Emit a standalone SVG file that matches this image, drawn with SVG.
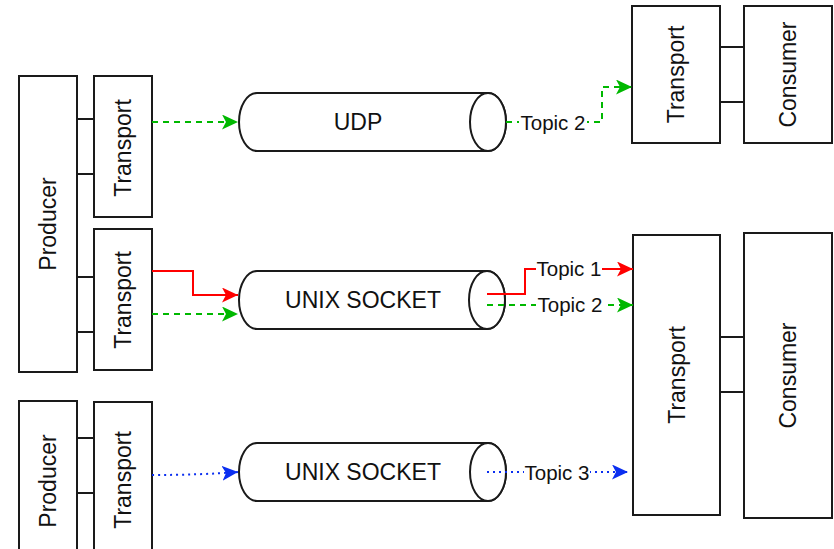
<svg xmlns="http://www.w3.org/2000/svg" width="834" height="549" viewBox="0 0 834 549">
  <style>
    .box { fill: #ffffff; stroke: #1a1a1a; stroke-width: 2; }
    .link { fill: none; stroke: #1a1a1a; stroke-width: 2; }
    .cyl { fill: #ffffff; stroke: #1a1a1a; stroke-width: 2; }
    .lbl { font-family: "Liberation Sans", Arial, sans-serif; font-size: 23px; fill: #111111; text-anchor: middle; dominant-baseline: central; }
    .topic { font-family: "Liberation Sans", Arial, sans-serif; font-size: 20.5px; fill: #111111; text-anchor: middle; dominant-baseline: central; }
    .bg { fill: #ffffff; }
    .red { fill: none; stroke: #ff0000; stroke-width: 2; }
    .green { fill: none; stroke: #00b800; stroke-width: 2; stroke-dasharray: 6 5; }
    .blue { fill: none; stroke: #0a2ef0; stroke-width: 2; stroke-dasharray: 2 4; }
  </style>
  <defs>
    <marker id="arrowRed" markerUnits="userSpaceOnUse" markerWidth="17" markerHeight="15" refX="16" refY="7.5" orient="auto">
      <path d="M0,0 L16,7.5 L0,15 L4,7.5 Z" fill="#ff0000"/>
    </marker>
    <marker id="arrowGreen" markerUnits="userSpaceOnUse" markerWidth="17" markerHeight="15" refX="16" refY="7.5" orient="auto">
      <path d="M0,0 L16,7.5 L0,15 L4,7.5 Z" fill="#00b800"/>
    </marker>
    <marker id="arrowBlue" markerUnits="userSpaceOnUse" markerWidth="17" markerHeight="15" refX="16" refY="7.5" orient="auto">
      <path d="M0,0 L16,7.5 L0,15 L4,7.5 Z" fill="#0a2ef0"/>
    </marker>
  </defs>

  <!-- producer 1 with its two transports -->
  <g id="producer1">
    <rect class="box" x="19" y="76" width="58" height="296"/>
    <text class="lbl" transform="rotate(-90 48 224)" x="48" y="224">Producer</text>
  </g>
  <g id="producer1-transport-a">
    <rect class="box" x="94" y="76" width="58" height="141"/>
    <text class="lbl" transform="rotate(-90 123 148)" x="123" y="148">Transport</text>
  </g>
  <g id="producer1-transport-b">
    <rect class="box" x="94" y="229" width="58" height="141"/>
    <text class="lbl" transform="rotate(-90 123 300)" x="123" y="300">Transport</text>
  </g>

  <!-- producer 2 -->
  <g id="producer2">
    <rect class="box" x="19" y="401" width="58" height="160"/>
    <text class="lbl" transform="rotate(-90 48 481)" x="48" y="481">Producer</text>
  </g>
  <g id="producer2-transport">
    <rect class="box" x="94" y="402" width="58" height="159"/>
    <text class="lbl" transform="rotate(-90 123 480)" x="123" y="480">Transport</text>
  </g>

  <!-- consumer 1 -->
  <g id="consumer1-transport">
    <rect class="box" x="632" y="6" width="88" height="137"/>
    <text class="lbl" transform="rotate(-90 676 74.5)" x="676" y="74.5">Transport</text>
  </g>
  <g id="consumer1">
    <rect class="box" x="744" y="6" width="88" height="137"/>
    <text class="lbl" transform="rotate(-90 788 74.5)" x="788" y="74.5">Consumer</text>
  </g>

  <!-- consumer 2 -->
  <g id="consumer2-transport">
    <rect class="box" x="633" y="235" width="87" height="280"/>
    <text class="lbl" transform="rotate(-90 676.5 375)" x="676.5" y="375">Transport</text>
  </g>
  <g id="consumer2">
    <rect class="box" x="744" y="233" width="88" height="285"/>
    <text class="lbl" transform="rotate(-90 788 375.5)" x="788" y="375.5">Consumer</text>
  </g>

  <!-- channels -->
  <g id="udp">
    <path class="cyl" d="M257,93 L488,93 A18,29 0 0 1 488,151 L257,151 A18,29 0 0 1 257,93 Z"/>
    <ellipse class="cyl" cx="488" cy="122" rx="18" ry="29"/>
    <text class="lbl" x="358" y="122">UDP</text>
  </g>
  <g id="unix-socket-1">
    <path class="cyl" d="M257,271 L487,271 A18,29 0 0 1 487,329 L257,329 A18,29 0 0 1 257,271 Z"/>
    <ellipse class="cyl" cx="487" cy="300" rx="18" ry="29"/>
    <text class="lbl" x="363" y="300">UNIX SOCKET</text>
  </g>
  <g id="unix-socket-2">
    <path class="cyl" d="M257,443 L488,443 A18,29 0 0 1 488,501 L257,501 A18,29 0 0 1 257,443 Z"/>
    <ellipse class="cyl" cx="488" cy="472" rx="18" ry="29"/>
    <text class="lbl" x="363" y="472">UNIX SOCKET</text>
  </g>

  <!-- connectors -->
  <g id="connectors">
    <!-- attachment bars -->
    <line class="link" x1="77" y1="119" x2="94" y2="119"/>
    <line class="link" x1="77" y1="174" x2="94" y2="174"/>
    <line class="link" x1="77" y1="277" x2="94" y2="277"/>
    <line class="link" x1="77" y1="332" x2="94" y2="332"/>
    <line class="link" x1="77" y1="438" x2="94" y2="438"/>
    <line class="link" x1="77" y1="493" x2="94" y2="493"/>
    <line class="link" x1="720" y1="47" x2="744" y2="47"/>
    <line class="link" x1="720" y1="102" x2="744" y2="102"/>
    <line class="link" x1="720" y1="337" x2="744" y2="337"/>
    <line class="link" x1="720" y1="392" x2="744" y2="392"/>

    <!-- producer side -->
    <path class="green" d="M152,122 L238,122" marker-end="url(#arrowGreen)"/>
    <path class="red" d="M152,271 L193,271 L193,295 L238,295" marker-end="url(#arrowRed)"/>
    <path class="green" d="M152,314 L238,314" marker-end="url(#arrowGreen)"/>
    <path class="blue" d="M152,475 Q200,475 238,472" marker-end="url(#arrowBlue)"/>

    <!-- consumer side -->
    <path class="green" d="M506,122 L602,122 L602,87 L632,87" marker-end="url(#arrowGreen)"/>
    <path class="red" d="M487,294 L525,294 L525,269 L633,269" marker-end="url(#arrowRed)"/>
    <path class="green" d="M487,305 L633,305" marker-end="url(#arrowGreen)"/>
    <path class="blue" d="M487,472 L628,472" marker-end="url(#arrowBlue)"/>

    <!-- topic labels -->
    <rect class="bg" x="519" y="111" width="68" height="22"/>
    <text class="topic" x="553" y="122">Topic 2</text>
    <rect class="bg" x="536" y="258" width="66" height="22"/>
    <text class="topic" x="569" y="268">Topic 1</text>
    <rect class="bg" x="536" y="294" width="68" height="22"/>
    <text class="topic" x="570" y="304">Topic 2</text>
    <rect class="bg" x="524" y="461" width="66" height="22"/>
    <text class="topic" x="557" y="472">Topic 3</text>
  </g>
</svg>
